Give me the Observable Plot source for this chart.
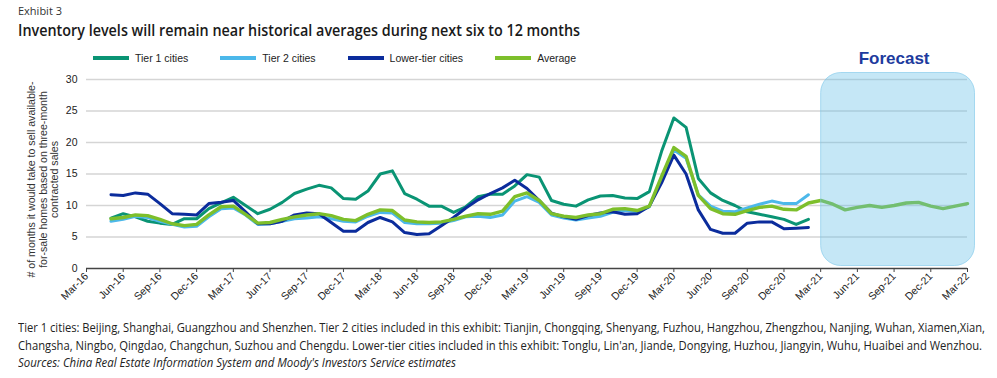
<!DOCTYPE html>
<html><head><meta charset="utf-8">
<script src="https://cdn.jsdelivr.net/npm/d3@7"></script>
<script src="https://cdn.jsdelivr.net/npm/@observablehq/plot@0.6"></script>
<style>
html,body{margin:0;padding:0;background:#fff;}
body{width:997px;height:378px;position:relative;overflow:hidden;font-family:"Liberation Sans",Arial,sans-serif;}
.abs{position:absolute;white-space:nowrap;transform-origin:0 50%;}
#exhibit{left:18px;top:4px;font:11px/13px "Open Sans";color:#333;}
#title{left:18px;top:20px;font:600 17px/20px "Open Sans";color:#1a1a1a;}
#legend{position:absolute;left:93px;top:51px;height:14px;display:flex;align-items:center;gap:32px;}
.item{display:flex;align-items:center;gap:6px;font:10.5px/14px "Liberation Sans",Arial,sans-serif;color:#222;}
.sw{width:36px;height:4px;}
#chart{position:absolute;left:0;top:40px;}
.foot{left:18px;font:12px/14px "Open Sans";color:#222;}
</style></head>
<body>
<div id="exhibit" class="abs">Exhibit 3</div>
<div id="title" class="abs" data-w="562">Inventory levels will remain near historical averages during next six to 12 months</div>
<div id="legend"></div>
<div id="chart"></div>
<div class="abs foot" style="top:321px" data-w="967">Tier 1 cities: Beijing, Shanghai, Guangzhou and Shenzhen. Tier 2 cities included in this exhibit: Tianjin, Chongqing, Shenyang, Fuzhou, Hangzhou, Zhengzhou, Nanjing, Wuhan, Xiamen,Xian,</div>
<div class="abs foot" style="top:339px" data-w="964">Changsha, Ningbo, Qingdao, Changchun, Suzhou and Chengdu. Lower-tier cities included in this exhibit: Tonglu, Lin'an, Jiande, Dongying, Huzhou, Jiangyin, Wuhu, Huaibei and Wenzhou.</div>
<div class="abs foot" style="top:356px;font-style:italic" data-w="438">Sources: China Real Estate Information System and Moody's Investors Service estimates</div>
<script>
// x tick labels, one every 3 months
const tickLabels = ["Mar-16","Jun-16","Sep-16","Dec-16","Mar-17","Jun-17","Sep-17","Dec-17","Mar-18","Jun-18","Sep-18","Dec-18","Mar-19","Jun-19","Sep-19","Dec-19","Mar-20","Jun-20","Sep-20","Dec-20","Mar-21","Jun-21","Sep-21","Dec-21","Mar-22"];
const yTicks = [0,5,10,15,20,25,30];
const seriesNames = ["Tier 1 cities","Tier 2 cities","Lower-tier cities","Average"];
const seriesColors = ["#0a9474","#4cb8ea","#0b2c9c","#7dbf2b"];
const firstMonth = "May-16";   // monthly series start
const forecastStart = "Mar-21";
const forecastEnd = "Mar-22";
const forecastLabel = "Forecast";
const yLabel = "# of months it would take to sell available-\nfor-sale homes based on three-month\ncontracted sales";

// monthly values May-16 .. Feb-21
const tier1 = [8.0,8.7,8.2,7.5,7.2,7.0,7.9,7.9,9.5,10.4,11.3,10.0,8.7,9.4,10.5,11.9,12.6,13.2,12.8,11.1,11.0,12.3,15.0,15.5,11.9,11.0,9.9,9.9,8.9,9.8,11.4,11.8,11.8,13.1,14.9,14.5,10.8,10.2,9.9,10.9,11.5,11.6,11.2,11.1,12.2,18.6,23.9,22.4,14.3,12.0,10.8,10.0,9.0,8.6,8.2,7.8,7.0,7.8];
const tier2 = [7.5,7.8,8.3,8.1,7.5,7.0,6.6,6.7,8.2,9.5,9.6,8.5,7.0,7.1,7.5,7.9,8.0,8.2,7.9,7.5,7.4,8.3,8.9,8.8,7.3,7.1,7.1,7.2,7.6,8.2,8.3,8.1,8.5,10.7,11.4,10.5,8.5,8.0,7.7,8.0,8.3,8.9,9.2,9.0,9.8,14.4,18.8,17.5,11.7,9.9,9.1,9.0,9.6,10.2,10.7,10.3,10.3,11.7];
const lowerTier = [11.7,11.6,12.0,11.8,10.3,8.7,8.6,8.5,10.3,10.5,10.8,9.0,7.1,7.1,7.5,8.5,8.8,8.7,7.3,5.9,5.9,7.3,8.1,7.4,5.7,5.4,5.5,6.8,8.1,9.6,10.9,11.9,12.8,14.0,12.7,10.8,8.8,8.2,7.8,8.4,8.8,9.0,8.6,8.7,9.9,13.6,18.0,15.0,9.3,6.2,5.6,5.6,7.2,7.4,7.4,6.3,6.4,6.5];
// average May-16 .. Feb-21 actual, Mar-21 .. Mar-22 forecast
const average = [7.9,8.1,8.5,8.4,7.8,7.1,6.8,7.0,8.5,9.8,9.9,8.6,7.2,7.3,7.8,8.2,8.5,8.7,8.4,7.8,7.6,8.6,9.3,9.2,7.7,7.4,7.3,7.4,7.8,8.3,8.7,8.6,9.1,11.4,12.0,10.8,8.7,8.3,8.1,8.5,8.7,9.4,9.5,9.2,9.9,14.6,19.2,17.8,11.6,9.5,8.7,8.6,9.2,9.7,9.9,9.4,9.3,10.4,
  10.8,10.2,9.3,9.7,10.0,9.7,10.0,10.4,10.5,9.9,9.5,9.9,10.3];

const monthNames = ["Jan","Feb","Mar","Apr","May","Jun","Jul","Aug","Sep","Oct","Nov","Dec"];
// month index counted from the first tick label
const monthOf = lab => {
  const [mon, yr] = lab.split("-");
  const [m0, y0] = tickLabels[0].split("-");
  return (+yr - +y0) * 12 + monthNames.indexOf(mon) - monthNames.indexOf(m0);
};
const start = monthOf(firstMonth);
const pts = vals => vals.map((v, k) => ({m: start + k, v}));
const allSeries = [tier1, tier2, lowerTier, average];
const xMax = (tickLabels.length - 1) * 3;
const f0 = monthOf(forecastStart), f1 = monthOf(forecastEnd);
const yMin = yTicks[0], yMax = yTicks[yTicks.length - 1];

// legend
const lg = document.getElementById("legend");
seriesNames.forEach((n, i) => {
  const it = document.createElement("div"); it.className = "item";
  it.innerHTML = `<div class="sw" style="background:${seriesColors[i]}"></div><span>${n}</span>`;
  lg.appendChild(it);
});

const chart = Plot.plot({
  width: 997, height: 270,
  marginLeft: 86, marginRight: 30, marginTop: 39, marginBottom: 42,
  style: {fontFamily: '"Liberation Sans", Arial, sans-serif', fontSize: "10.5px", color: "#222", background: "transparent", overflow: "visible"},
  x: {type: "linear", domain: [0, xMax]},
  y: {domain: [yMin, yMax]},
  marks: [
    Plot.gridY(yTicks.filter(t => t > yMin), {stroke: "#d5d5d5", strokeOpacity: 1, strokeWidth: 1.3}),
    Plot.axisY({ticks: yTicks, tickSize: 0, tickPadding: 9, label: null}),
    Plot.axisX({ticks: d3.range(0, xMax + 1, 3), tickFormat: m => tickLabels[m / 3], tickRotate: -45, tickSize: 4, tickPadding: 2, label: null, stroke: "#444"}),
    Plot.ruleY([yMin], {stroke: "#444", strokeWidth: 1.3}),
    ...allSeries.map((s, i) => Plot.line(pts(s), {x: "m", y: "v", stroke: seriesColors[i], strokeWidth: i === 3 ? 3.4 : 3, strokeLinejoin: "round"})),
    Plot.rect([{a: f0, b: f1}], {x1: "a", x2: "b", y1: () => yMin, y2: () => yMax,
      insetTop: -6.5, insetBottom: 2.5, insetRight: -7.5, insetLeft: 0.5, rx: 20,
      fill: "#62bee6", fillOpacity: 0.37, stroke: "#7cc6ea", strokeOpacity: 0.6, strokeWidth: 1}),
    Plot.text([forecastLabel], {x: () => (f0 + f1) / 2, y: () => yMax, dy: -21, fontSize: 17, fontWeight: "bold", fill: "#1d3b9e"}),
    Plot.text([yLabel], {x: () => 0, y: () => (yMin + yMax) / 2, rotate: -90, textAnchor: "middle", lineAnchor: "middle", dx: -43.5, dy: 5.5, lineHeight: 1.08, fontSize: 10.6, fill: "#333"})
  ]
});
document.getElementById("chart").appendChild(chart);

function fitAll() {
  document.querySelectorAll("[data-w]").forEach(el => {
    el.style.transform = "none";
    const w = el.getBoundingClientRect().width;
    el.style.transform = `scaleX(${(+el.dataset.w) / w})`;
  });
}
fitAll();
if (document.fonts && document.fonts.ready) document.fonts.ready.then(fitAll);
</script>
</body></html>
